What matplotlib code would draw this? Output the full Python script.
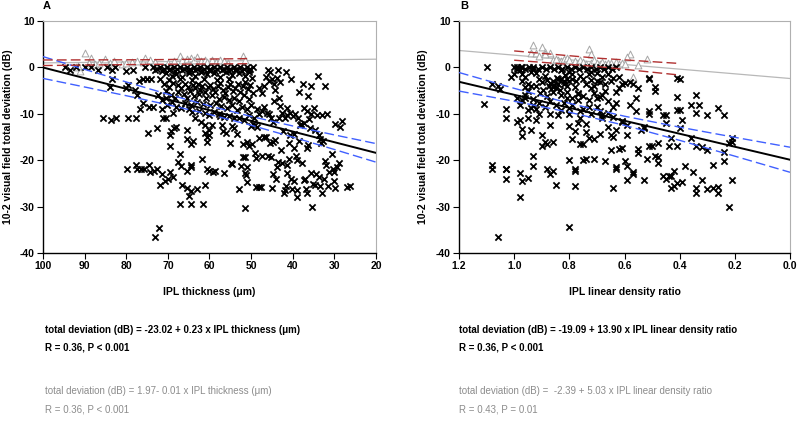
import matplotlib
matplotlib.use("Agg")
import matplotlib.pyplot as plt
from matplotlib import font_manager
import numpy as np

plt.rcParams['axes.unicode_minus'] = False

# --- panel A: IPL thickness vs total deviation (glaucoma: crosses, normal: triangles)
cross_a = [
    (94.8, 0), (93.6, -0.5), (92.0, 0), (90.0, 0), (88.4, 0), (86.8, -0.5), (84.7, 0), (83.5, -0.5), (82.7, 0),
    (80.0, -0.8), (78.3, -0.5), (75.5, 0), (83.5, -2.4), (83.8, -4.2), (80.0, -4.5), (79.5, -3.8), (78.0, -4.8),
    (77.0, -3.0), (76.0, -2.5), (75.0, -2.5), (74.0, -2.5), (77.5, -6.0), (75.9, -7.7), (76.7, -9.0), (74.5, -8.5),
    (73.5, -8.5), (72.3, -5.9), (71.5, -7.0), (70.5, -6.5), (85.7, -11.0), (83.6, -11.3), (82.5, -10.8),
    (79.6, -11.0), (77.6, -10.8), (79.7, -22.0), (77.6, -21.0), (77.5, -22.0), (76.5, -22.0), (75.7, -22.0),
    (74.5, -21.0), (74.2, -22.6), (73.3, -22.3), (72.5, -22.0), (72.0, -25.3), (71.5, -23.0), (70.8, -24.5),
    (70.0, -24.0), (69.5, -22.5), (68.7, -23.6), (73.0, -36.5), (72.2, -34.6), (74.8, -14.2), (72.5, -13.0),
    (71.2, -11.0), (70.5, -10.8), (69.5, -17.0), (69.4, -14.5), (69.3, -13.8), (68.5, -13.0), (68.0, -12.8),
    (67.5, -20.3), (67.0, -18.7), (66.8, -21.2), (66.5, -25.3), (67.0, -29.5), (65.5, -13.4), (65.3, -15.5),
    (64.5, -16.5), (64.0, -15.8), (65.3, -22.3), (64.5, -21.0), (64.4, -21.5), (65.3, -26.0), (65.0, -27.8),
    (64.5, -26.7), (64.5, -29.5), (63.0, -26.2), (61.5, -29.5), (61.8, -19.8), (61.2, -25.3), (60.5, -22.0),
    (60.0, -22.3), (60.5, -16.0), (60.5, -15.0), (60.2, -14.6), (59.5, -12.5), (61.0, -14.2), (60.0, -13.5),
    (59.2, -22.5), (58.7, -22.3), (56.5, -22.7), (57.5, -10.5), (57.0, -12.5), (56.8, -13.8), (56.0, -14.2),
    (55.0, -16.3), (54.8, -20.5), (54.6, -20.8), (54.0, -13.0), (53.5, -14.3), (54.5, -12.6), (53.0, -26.2),
    (52.5, -21.3), (52.0, -19.4), (51.5, -19.4), (51.5, -22.8), (51.3, -23.2), (51.0, -21.5), (51.0, -24.7),
    (51.5, -30.2), (52.0, -16.5), (51.0, -16.0), (50.5, -17.0), (49.8, -16.5), (49.0, -18.5), (48.8, -19.5),
    (48.2, -25.8), (47.7, -25.8), (47.5, -19.2), (48.8, -25.8), (49.0, -12.5), (48.5, -12.8), (48.0, -15.3),
    (47.0, -15.0), (46.5, -15.0), (46.0, -19.0), (45.2, -19.3), (45.0, -26.0), (44.8, -23.0), (44.0, -24.0),
    (43.8, -21.5), (43.5, -20.3), (45.5, -16.2), (44.8, -16.0), (44.2, -15.7), (42.8, -17.8), (42.3, -13.6),
    (42.0, -27.0), (41.8, -26.5), (41.6, -25.5), (41.5, -21.0), (41.3, -22.7), (40.8, -19.8), (40.5, -24.0),
    (40.2, -26.3), (39.8, -24.5), (42.5, -20.5), (41.0, -16.2), (40.6, -14.5), (39.6, -17.4), (39.2, -19.0),
    (39.0, -28.0), (38.9, -26.4), (39.0, -20.0), (38.5, -15.8), (37.8, -20.5), (37.3, -24.3), (37.0, -24.0),
    (36.7, -26.2), (36.5, -27.0), (36.3, -16.8), (36.6, -17.3), (35.5, -22.8), (35.1, -25.2), (34.7, -25.3),
    (35.3, -30.0), (34.3, -23.0), (33.8, -23.6), (33.5, -25.5), (33.0, -27.0), (32.5, -24.0), (32.2, -20.2),
    (32.0, -21.0), (31.5, -25.5), (31.2, -22.5), (30.3, -22.0), (30.0, -22.5), (29.8, -26.0), (30.1, -24.5),
    (29.4, -21.5), (29.0, -20.5), (26.9, -25.7), (26.3, -25.6), (30.5, -18.6), (33.4, -15.5), (33.2, -16.2),
    (32.7, -15.8), (33.8, -14.6), (34.7, -13.5), (35.8, -13.0), (36.2, -11.2), (37.3, -12.0), (38.0, -12.3),
    (38.7, -11.0), (39.4, -10.0), (40.0, -10.5), (40.7, -9.8), (41.3, -10.2), (41.8, -11.0), (42.5, -9.8),
    (43.0, -8.3), (43.4, -10.8), (41.5, -8.7), (44.8, -11.8), (45.3, -11.0), (45.6, -10.0), (46.2, -9.8),
    (46.8, -8.6), (47.3, -9.5), (48.0, -10.0), (48.7, -9.0), (49.2, -10.8), (49.5, -12.3), (50.0, -12.6),
    (37.2, -8.8), (36.5, -9.4), (35.0, -8.8), (35.6, -10.0), (34.2, -10.3), (33.0, -10.2), (31.8, -10.1),
    (29.8, -12.3), (28.2, -11.5), (28.6, -12.8), (35.5, -4.0), (34.0, -1.8), (32.2, -4.0), (36.3, -6.2),
    (38.4, -5.3), (37.5, -3.5), (40.4, -2.4), (41.7, -1.0), (43.5, -0.5), (43.8, -2.3), (44.3, -4.8),
    (44.5, -7.2), (43.2, -6.6), (43.0, -3.2), (39.6, -14.3), (38.2, -12.5), (45.0, -2.5), (45.5, -1.0),
    (46.0, -0.5), (46.5, -2.0), (46.8, -4.0), (47.5, -5.5), (48.0, -4.5), (45.8, -3.0), (44.6, -3.5),
    # dense band 50-73 um
    (73.5, 0), (72.6, -0.4), (71.8, 0), (71.0, -0.4), (70.2, 0), (69.4, -0.4), (68.6, 0), (67.8, -0.4),
    (67.0, 0), (66.2, -0.4), (65.4, 0), (64.6, -0.4), (63.8, 0), (63.0, -0.4), (62.2, 0), (61.4, -0.4),
    (60.6, 0), (59.8, -0.4), (59.0, 0), (58.2, -0.4), (57.4, 0), (56.6, -0.4), (55.8, 0), (55.0, -0.4),
    (54.2, 0), (53.4, -0.4), (52.6, 0), (51.8, -0.4), (51.0, 0), (50.2, -0.4), (49.5, 0), (73.0, -0.6),
    (71.4, -0.7), (69.8, -0.6), (68.2, -0.7), (66.6, -0.6), (65.0, -0.7), (63.4, -0.6), (61.8, -0.7),
    (60.2, -0.6), (58.6, -0.7), (57.0, -0.6), (55.4, -0.7), (53.8, -0.6), (52.2, -0.7), (50.6, -0.6),
    (70.5, -1.2), (69.0, -1.8), (68.0, -1.5), (66.5, -2.0), (65.0, -1.3), (63.5, -1.8), (62.0, -1.0),
    (60.5, -1.5), (59.0, -1.2), (57.5, -2.0), (56.0, -1.0), (54.5, -1.6), (53.0, -1.2), (51.5, -1.8),
    (50.5, -1.0), (49.8, -2.2), (55.3, -2.5), (58.3, -2.8), (61.3, -2.6), (64.2, -2.8), (67.2, -2.6),
    (69.8, -2.8), (72.0, -2.4), (71.0, -3.5), (68.8, -3.4), (67.6, -3.8), (66.8, -4.5), (65.8, -3.5),
    (65.2, -4.2), (64.6, -5.0), (64.0, -3.8), (63.4, -4.4), (62.8, -3.6), (62.3, -4.8), (61.7, -4.0),
    (61.0, -5.2), (60.4, -4.3), (59.8, -3.7), (59.2, -4.6), (58.6, -5.4), (58.0, -4.0), (57.4, -3.4),
    (56.8, -4.8), (56.2, -5.6), (55.6, -4.2), (55.0, -3.6), (54.4, -5.0), (53.8, -4.4), (53.2, -3.5),
    (52.6, -5.2), (52.0, -4.0), (51.4, -3.2), (50.8, -4.6), (50.2, -3.8), (66.2, -5.8), (63.8, -6.2),
    (62.5, -5.8), (60.8, -6.5), (59.5, -6.0), (57.8, -6.8), (56.5, -6.4), (55.2, -7.0), (54.0, -6.6),
    (52.8, -7.2), (51.6, -6.0), (50.4, -6.8), (49.6, -5.5), (67.5, -5.2), (65.5, -6.6), (63.0, -7.4),
    (61.5, -7.8), (59.8, -8.2), (58.4, -7.6), (57.2, -8.4), (55.8, -8.8), (54.6, -8.0), (53.4, -9.2),
    (52.2, -8.6), (51.0, -9.0), (50.0, -8.2), (69.0, -7.5), (68.0, -8.5), (66.8, -8.8), (65.0, -9.0),
    (64.2, -9.6), (62.6, -9.3), (61.2, -9.8), (60.0, -10.2), (58.8, -9.6), (57.6, -10.0), (56.4, -10.6),
    (55.2, -10.4), (54.0, -11.0), (52.8, -10.8), (51.6, -11.4), (50.6, -10.2), (70.5, -5.0), (69.8, -4.2),
    (69.2, -6.0), (68.2, -6.6), (66.0, -7.6), (64.5, -8.2), (71.5, -9.0), (70.2, -8.0), (68.8, -9.8),
    (63.5, -11.0), (62.0, -11.8), (61.2, -12.5),
]
tri_a = [
    (90.0, 3.0), (88.5, 2.0), (91.0, -0.7), (91.5, 0.2), (89.0, 1.0), (87.5, 0.8), (86.5, 1.0), (85.0, 1.8),
    (84.0, 1.0), (83.0, 1.3), (81.0, 0.8), (80.0, 1.0), (78.5, 1.2), (77.5, 1.3), (76.0, 1.2), (75.5, 2.0),
    (74.3, 1.5), (73.0, 1.2), (70.0, 1.0), (68.5, 1.3), (67.0, 2.4), (66.5, 1.5), (65.5, 1.8), (64.5, 2.0),
    (63.7, 1.7), (63.0, 2.2), (62.0, 1.3), (61.0, 1.5), (60.5, 1.2), (59.5, 1.5), (58.5, 1.2), (57.5, 1.5),
    (56.5, 1.3), (55.5, 1.0), (52.0, 2.5), (51.5, 1.5), (92.0, 0.0),
]

# regression lines (intercept, slope) and confidence bounds
fit_a = (-23.02, 0.23)
fit_a_normal = (1.97, -0.01)
ci_a_x = [100, 90, 80, 70, 60, 50, 40, 30, 20]
ci_a_hi = [2.33, -0.42, -3.14, -5.79, -8.30, -10.57, -12.62, -14.55, -16.42]
ci_a_lo = [-2.37, -4.22, -6.10, -8.05, -10.14, -12.47, -15.02, -17.69, -20.42]
ci_a_n_x = [100, 75, 50]
ci_a_n_hi = [1.6, 1.65, 1.9]
ci_a_n_lo = [0.4, 0.65, 0.8]

# --- panel B: IPL linear density ratio
cross_b = [
    (1.10, 0), (1.11, -7.8), (1.08, -3.6), (1.06, -4.0), (1.05, -4.6), (1.03, -9.0), (1.03, -11.0),
    (1.08, -21.0), (1.08, -22.0), (1.03, -22.0), (1.03, -24.0), (1.03, -21.8), (1.06, -36.5), (0.98, -28.0),
    (0.98, -22.7), (0.97, -24.5), (0.95, -23.8), (0.93, -21.3), (0.93, -19.2), (0.88, -22.0), (0.87, -23.0),
    (0.86, -22.3), (0.85, -25.3), (0.80, -34.5), (0.80, -20.0), (0.78, -22.0), (0.78, -22.3), (0.78, -25.5),
    (0.75, -20.0), (0.74, -19.8), (0.71, -19.8), (0.67, -20.2), (0.64, -26.0), (0.63, -21.5), (0.63, -21.8),
    (0.60, -20.2), (0.59, -21.2), (0.59, -24.2), (0.57, -22.5), (0.57, -23.0), (0.53, -24.2), (0.52, -19.8),
    (0.50, -17.0), (0.49, -19.0), (0.48, -19.3), (0.48, -20.5), (0.46, -23.5), (0.45, -24.0), (0.44, -23.3),
    (0.43, -23.5), (0.43, -26.0), (0.42, -25.5), (0.42, -22.3), (0.41, -25.0), (0.39, -24.7), (0.38, -21.2),
    (0.35, -22.5), (0.34, -26.0), (0.34, -27.0), (0.32, -24.2), (0.30, -26.2), (0.28, -26.0), (0.28, -21.0),
    (0.26, -25.7), (0.26, -27.0), (0.22, -30.0), (0.24, -20.2), (0.24, -18.3), (0.21, -24.2), (0.22, -16.2),
    (0.21, -15.3), (0.21, -16.0), (0.24, -10.2), (0.26, -8.8), (0.30, -10.2), (0.30, -17.8), (0.32, -17.2),
    (0.33, -8.0), (0.34, -6.0), (0.34, -9.8), (0.34, -17.0), (0.36, -8.2), (0.36, -15.2), (0.39, -11.3),
    (0.40, -13.0), (0.40, -9.2), (0.41, -6.3), (0.41, -9.2), (0.40, -2.5), (0.41, -2.3), (0.41, -17.0),
    (0.43, -15.2), (0.44, -17.0), (0.45, -10.2), (0.46, -10.2), (0.45, -12.0), (0.48, -8.5), (0.48, -16.2),
    (0.51, -10.0), (0.51, -9.3), (0.51, -17.0), (0.51, -2.2), (0.51, -2.5), (0.49, -4.2), (0.49, -5.0),
    (0.53, -13.0), (0.54, -13.4), (0.53, -12.8), (0.55, -18.5), (0.55, -17.5), (0.56, -6.5), (0.55, -4.5),
    (0.57, -3.5), (0.58, -3.2), (0.56, -9.5), (0.58, -8.0), (0.59, -12.5), (0.59, -14.5), (0.60, -3.3),
    (0.61, -3.5), (0.62, -2.0), (0.62, -4.5), (0.61, -11.5), (0.61, -17.3), (0.62, -17.5), (0.61, -11.8),
    (0.63, -5.2), (0.64, -8.5), (0.63, -13.5), (0.64, -15.0), (0.65, -14.5), (0.65, -17.8), (0.66, -7.2),
    (0.66, -12.8), (0.67, -3.5), (0.68, -6.0), (0.68, -10.3), (0.69, -14.3), (0.69, -9.3), (0.70, -3.0),
    (0.70, -6.5), (0.72, -1.0), (0.72, -4.5), (0.73, -8.5), (0.73, -15.2), (0.71, -15.5), (0.74, -12.3),
    (0.74, -14.0), (0.75, -16.5), (0.76, -16.5), (0.76, -11.0), (0.77, -12.0), (0.77, -5.5), (0.76, -9.5),
    (0.77, -7.0), (0.78, -13.6), (0.79, -15.5), (0.80, -12.7), (0.80, -8.8), (0.80, -10.0), (0.81, -6.5),
    (0.79, -1.5), (0.80, -3.0), (0.81, -4.0), (0.82, -3.5), (0.83, -0.5), (0.84, -10.3), (0.84, -2.5),
    (0.86, -4.3), (0.87, -12.5), (0.86, -16.0), (0.87, -10.0), (0.88, -16.5), (0.89, -16.0), (0.90, -14.5),
    (0.90, -17.0), (0.91, -10.0), (0.92, -9.0), (0.92, -11.3), (0.94, -13.5), (0.95, -11.0), (0.94, -8.8),
    (0.97, -13.2), (0.97, -14.7), (0.99, -11.7), (0.98, -11.3), (0.99, -6.5), (0.97, -7.0), (0.98, -8.0),
    (0.96, -6.5), (0.96, -6.0), (0.95, -9.2), (0.93, -8.0), (0.94, -4.0), (0.95, -3.5), (0.96, -2.0),
    (0.97, -1.5), (0.98, -0.5), (1.00, -1.5), (1.01, -2.0), (1.00, 0), (0.99, 0), (0.97, 0), (0.93, -0.3),
    # dense band
    (0.99, -0.3), (0.975, 0), (0.96, -0.3), (0.945, 0), (0.93, 0), (0.915, -0.3), (0.90, 0), (0.885, -0.3),
    (0.87, 0), (0.855, -0.3), (0.84, 0), (0.825, -0.3), (0.81, 0), (0.795, -0.3), (0.78, 0), (0.765, -0.3),
    (0.75, 0), (0.735, -0.3), (0.72, 0), (0.705, -0.3), (0.69, 0), (0.675, -0.3), (0.66, 0), (0.645, -0.3),
    (0.63, 0), (0.92, -1.2), (0.91, -2.5), (0.90, -3.2), (0.89, -1.8), (0.88, -2.8), (0.875, -4.0),
    (0.87, -3.4), (0.865, -4.6), (0.86, -3.0), (0.855, -3.8), (0.85, -4.4), (0.845, -2.2), (0.84, -3.6),
    (0.835, -4.8), (0.83, -2.6), (0.82, -3.0), (0.815, -1.6), (0.81, -2.4), (0.80, -1.0), (0.79, -2.6),
    (0.78, -4.2), (0.775, -3.0), (0.76, -1.8), (0.75, -2.4), (0.74, -3.6), (0.73, -1.5), (0.72, -2.8),
    (0.71, -4.0), (0.70, -1.2), (0.69, -3.2), (0.68, -2.0), (0.66, -1.5), (0.65, -3.0), (0.64, -2.2),
    (0.895, -4.8), (0.905, -5.6), (0.88, -6.2), (0.86, -5.4), (0.83, -6.0), (0.81, -5.2), (0.79, -6.6),
    (0.77, -5.8), (0.75, -6.2), (0.73, -7.0), (0.71, -5.6), (0.69, -6.4), (0.67, -5.0), (0.92, -4.0),
    (0.93, -6.8), (0.91, -7.6), (0.89, -8.6), (0.87, -7.2), (0.85, -8.0), (0.83, -9.2), (0.82, -7.6),
    (0.79, -8.2), (0.75, -9.0), (0.72, -10.0), (0.70, -8.6), (0.68, -11.0), (0.66, -9.8), (0.64, -10.6),
    (0.63, -7.6), (0.96, -4.2), (0.97, -3.0), (0.95, -5.0), (0.94, -1.0),
]
tri_b = [
    (0.93, 4.8), (0.90, 4.3), (0.73, 4.0), (0.72, 2.8), (0.58, 2.8), (0.59, 2.2), (0.52, 1.8), (0.57, -2.0),
    (0.94, 3.0), (0.92, 3.0), (0.89, 3.3), (0.87, 3.0), (0.91, 2.5), (0.86, 1.5), (0.84, 1.5), (0.83, 1.3),
    (0.82, 1.8), (0.81, 2.0), (0.80, 1.5), (0.78, 1.3), (0.77, 1.0), (0.76, 1.5), (0.75, 1.2), (0.74, 0.8),
    (0.72, 1.0), (0.71, 1.5), (0.70, 1.0), (0.69, 0.7), (0.68, 1.2), (0.67, 0.8), (0.66, 0.9), (0.65, 1.0),
    (0.63, 1.2), (0.62, 0.8), (0.61, 1.0), (0.60, 0.7), (0.55, 0.5), (0.89, 2.9), (0.85, 1.8),
]

fit_b = (-19.9, 14.0)
fit_b_normal = (-2.39, 5.03)
ci_b_x = [1.2, 1.0, 0.8, 0.6, 0.4, 0.2, 0.0]
ci_b_hi = [-1.1, -4.51, -7.74, -10.52, -12.88, -15.07, -17.2]
ci_b_lo = [-5.1, -7.29, -9.66, -12.48, -15.72, -19.13, -22.6]
ci_b_n_x = [1.0, 0.7, 0.4]
ci_b_n_hi = [3.55, 2.0, 0.85]
ci_b_n_lo = [1.55, 0.2, -1.65]

eq_a = "total deviation (dB) = -23.02 + 0.23 x IPL thickness (μm)"
r_a = "R = 0.36, P < 0.001"
eq_a_n = "total deviation (dB) = 1.97- 0.01 x IPL thickness (μm)"
r_a_n = "R = 0.36, P < 0.001"
eq_b = "total deviation (dB) = -19.09 + 13.90 x IPL linear density ratio"
r_b = "R = 0.36, P < 0.001"
eq_b_n = "total deviation (dB) =  -2.39 + 5.03 x IPL linear density ratio"
r_b_n = "R = 0.43, P = 0.01"

names = {f.name for f in font_manager.fontManager.ttflist}
narrow = 'Liberation Sans Narrow' if 'Liberation Sans Narrow' in names else 'Liberation Sans'
tick_font = 'Liberation Sans'

W, H = 800, 422
fig = plt.figure(figsize=(W / 100, H / 100), dpi=100)


def panel(ax, cross, tri, xlim, xticks, xticklabels, fit, fit_n, ci_x, ci_hi, ci_lo, ci_n_x, ci_n_hi, ci_n_lo):
    cx, cy = zip(*cross)
    tx, ty = zip(*tri)
    ax.scatter(cx, cy, marker='x', s=20, c='black', linewidths=1.3, zorder=3)
    ax.scatter(tx, ty, marker='^', s=24, facecolors='white', edgecolors='#a6a6a6', linewidths=0.7, zorder=2)
    xs = np.array(xlim, dtype=float)
    ax.plot(xs, fit_n[0] + fit_n[1] * xs, color='#b8b8b8', lw=0.9, zorder=1)
    ax.plot(xs, fit[0] + fit[1] * xs, color='black', lw=1.4, zorder=4)
    ax.plot(ci_x, ci_hi, color='#4060ff', lw=1.0, dashes=(7, 3), zorder=4)
    ax.plot(ci_x, ci_lo, color='#4060ff', lw=1.0, dashes=(7, 3), zorder=4)
    ax.plot(ci_n_x, ci_n_hi, color='#b03030', lw=1.0, dashes=(7, 3), zorder=4)
    ax.plot(ci_n_x, ci_n_lo, color='#b03030', lw=1.0, dashes=(7, 3), zorder=4)
    ax.set_xlim(*xlim)
    ax.set_ylim(-40, 10)
    ax.set_xticks(xticks)
    ax.set_xticklabels(xticklabels)
    ax.set_yticks([-40, -30, -20, -10, 0, 10])
    ax.set_yticklabels(['-40', '-30', '-20', '-10', '0', '10'])
    for lab in ax.get_xticklabels() + ax.get_yticklabels():
        lab.set_fontfamily(tick_font)
        lab.set_fontweight('bold')
        lab.set_fontsize(7.5)
    ax.tick_params(direction='out', length=4, width=0.8, pad=2)
    for s in ['top', 'right']:
        ax.spines[s].set_color('#b0b0b0')
    for s in ['left', 'bottom']:
        ax.spines[s].set_color('black')
        ax.spines[s].set_linewidth(1.0)


ax_a = fig.add_axes([43 / W, 1 - 253 / H, 333 / W, 232 / H])
panel(ax_a, cross_a, tri_a, (100, 20), [100, 90, 80, 70, 60, 50, 40, 30, 20],
      ['100', '90', '80', '70', '60', '50', '40', '30', '20'],
      fit_a, fit_a_normal, ci_a_x, ci_a_hi, ci_a_lo, ci_a_n_x, ci_a_n_hi, ci_a_n_lo)

ax_b = fig.add_axes([459 / W, 1 - 253 / H, 331 / W, 232 / H])
panel(ax_b, cross_b, tri_b, (1.2, 0.0), [1.2, 1.0, 0.8, 0.6, 0.4, 0.2, 0.0],
      ['1.2', '1.0', '0.8', '0.6', '0.4', '0.2', '0.0'],
      fit_b, fit_b_normal, ci_b_x, ci_b_hi, ci_b_lo, ci_b_n_x, ci_b_n_hi, ci_b_n_lo)

# panel letters and y labels
fig.text(43 / W, 1 - 6 / H, 'A', fontsize=8, fontweight='bold', family=tick_font, va='center', ha='left')
fig.text(460 / W, 1 - 6 / H, 'B', fontsize=8, fontweight='bold', family=tick_font, va='center', ha='left')
for xp in (8, 423):
    fig.text(xp / W, 1 - 137 / H, '10-2 visual field total deviation (dB)', rotation=90,
             fontsize=7.5, fontweight='bold', family=tick_font, ha='center', va='center')

# x labels and equations
fig.text(209.5 / W, 1 - 292 / H, 'IPL thickness (μm)', fontsize=7.5, fontweight='bold',
         family=narrow, ha='center', va='center')
fig.text(624.5 / W, 1 - 292 / H, 'IPL linear density ratio', fontsize=7.5, fontweight='bold',
         family=narrow, ha='center', va='center')

rows = [(330, 'black', 'bold'), (347, 'black', 'bold'), (391, '#8c8c8c', 'normal'), (409, '#8c8c8c', 'normal')]
for (yp, col, wt), ta, tb in zip(rows, [eq_a, r_a, eq_a_n, r_a_n], [eq_b, r_b, eq_b_n, r_b_n]):
    fig.text(45 / W, 1 - yp / H, ta, fontsize=7, color=col, fontweight=wt, family=narrow, va='center')
    fig.text(459 / W, 1 - yp / H, tb, fontsize=7, color=col, fontweight=wt, family=narrow, va='center')

fig.savefig('out.png', dpi=100, facecolor='white')
